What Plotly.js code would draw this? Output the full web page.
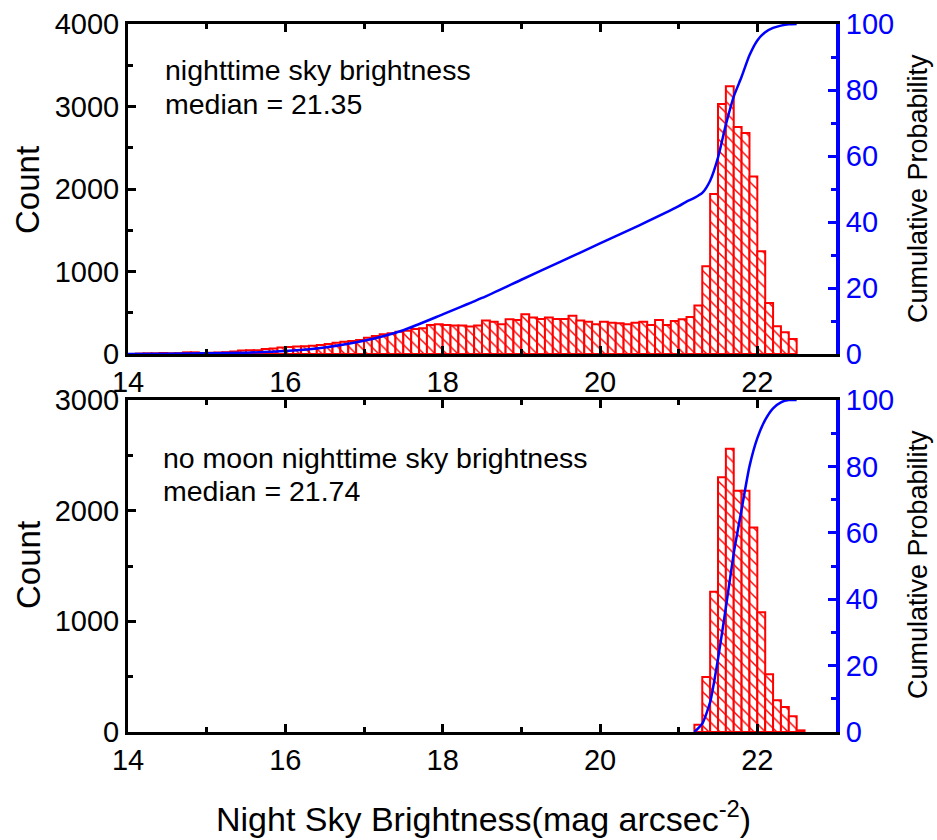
<!DOCTYPE html>
<html>
<head>
<meta charset="utf-8">
<script src="https://cdn.plot.ly/plotly-3.0.1.min.js"></script>
<style>html,body{margin:0;padding:0;background:#fff;}#chart{width:937px;height:840px;}</style>
</head>
<body>
<div id="chart"></div>
<script>
// ---- data ----
const topBinStart = [14.0,14.1,14.2,14.3,14.4,14.5,14.6,14.7,14.8,14.9,
  15.0,15.1,15.2,15.3,15.4,15.5,15.6,15.7,15.8,15.9,
  16.0,16.1,16.2,16.3,16.4,16.5,16.6,16.7,16.8,16.9,
  17.0,17.1,17.2,17.3,17.4,17.5,17.6,17.7,17.8,17.9,
  18.0,18.1,18.2,18.3,18.4,18.5,18.6,18.7,18.8,18.9,
  19.0,19.1,19.2,19.3,19.4,19.5,19.6,19.7,19.8,19.9,
  20.0,20.1,20.2,20.3,20.4,20.5,20.6,20.7,20.8,20.9,
  21.0,21.1,21.2,21.3,21.4,21.5,21.6,21.7,21.8,21.9,
  22.0,22.1,22.2,22.3,22.4];
const topCounts = [0,5,8,8,12,8,10,20,20,12,
  15,18,22,30,42,45,45,62,68,80,
  85,92,95,100,110,121,135,150,158,170,
  198,218,239,251,271,283,303,311,352,360,
  352,344,344,332,344,405,392,360,421,413,
  482,441,425,441,425,425,465,405,392,360,
  392,380,372,360,380,392,352,413,352,401,
  421,450,587,1064,1938,3031,3245,2752,2679,2153,
  1246,619,336,263,182];

const topCumX = [14.0,14.5,15.0,15.5,16.0,16.5,17.0,17.5,18.0,18.5,19.0,19.5,20.0,20.5,21.0,21.1,21.2,21.3,21.4,21.5,21.6,21.7,21.8,21.9,22.0,22.1,22.2,22.3,22.4,22.5];
const topCumY = [0,0.05,0.2,0.4,0.9,2.0,4.0,7.2,12.0,17.0,22.5,28.0,33.5,39.0,44.8,46.2,47.3,48.8,52.5,59.5,69.5,78.0,84.0,90.5,95.0,97.5,98.8,99.5,99.9,100];

const botBinStart = [21.2,21.3,21.4,21.5,21.6,21.7,21.8,21.9,22.0,22.1,22.2,22.3,22.4,22.5];
const botCounts = [66,497,1268,2301,2560,2181,2181,1849,1081,521,286,226,142,15];

const botCumX = [21.2,21.3,21.4,21.5,21.6,21.7,21.8,21.9,22.0,22.1,22.2,22.3,22.4,22.5];
const botCumY = [0,2.5,9.0,22.0,37.5,53.8,67.0,80.0,88.5,94.0,97.5,99.3,100,100];

const xTickVals = [14,16,18,20,22];
const topLabel1 = 'nighttime sky brightness';
const topLabel2 = 'median = 21.35';
const botLabel1 = 'no moon nighttime sky brightness';
const botLabel2 = 'median = 21.74';

// ---- styling ----
const FONT = 'Liberation Sans, Arial, sans-serif';
const RED = '#ff0000';
const BLUE = '#0000ff';
const TICKSIZE = 29;
const TEXTSIZE = 28.5;

function barTrace(x, y, xa, ya) {
  return {
    type: 'bar', x: x, y: y, xaxis: xa, yaxis: ya,
    width: 0.1, offset: 0,
    marker: {
      color: 'white',
      line: {color: RED, width: 2},
      pattern: {shape: '\\', fgcolor: RED, bgcolor: 'white', size: 8, solidity: 0.18, fillmode: 'replace'}
    },
    hoverinfo: 'skip', showlegend: false
  };
}
function lineTrace(x, y, xa, ya) {
  return {
    type: 'scatter', mode: 'lines', x: x, y: y, xaxis: xa, yaxis: ya,
    line: {color: BLUE, width: 2.5, shape: 'spline', smoothing: 0.6},
    hoverinfo: 'skip', showlegend: false
  };
}

const data = [
  barTrace(topBinStart, topCounts, 'x', 'y'),
  lineTrace(topCumX, topCumY, 'x', 'y2'),
  barTrace(botBinStart, botCounts, 'x2', 'y3'),
  lineTrace(botCumX, botCumY, 'x2', 'y4')
];

const xDom = [128/937, 836/937];
const topDom = [1-354/840, 1-24/840];
const botDom = [1-732/840, 1-400/840];

function xAxis(anchor) {
  return {
    domain: xDom, anchor: anchor, range: [14, 23],
    tickvals: xTickVals, ticks: 'inside', ticklen: 8, tickwidth: 3, tickcolor: 'black',
    minor: {dtick: 1, tick0: 14, ticks: 'inside', ticklen: 5, tickwidth: 3, tickcolor: 'black'},
    showline: true, linecolor: 'black', linewidth: 3, mirror: 'ticks',
    showgrid: false, zeroline: false,
    tickfont: {family: FONT, size: TICKSIZE, color: 'black'}
  };
}
function yLeft(domain, anchor, max) {
  return {
    domain: domain, anchor: anchor, range: [0, max], dtick: 1000,
    ticks: 'inside', ticklen: 8, tickwidth: 3, tickcolor: 'black',
    minor: {dtick: 500, ticks: 'inside', ticklen: 5, tickwidth: 3, tickcolor: 'black'},
    showline: true, linecolor: 'black', linewidth: 3, mirror: false,
    showgrid: false, zeroline: false,
    tickfont: {family: FONT, size: TICKSIZE, color: 'black'}
  };
}
function yRight(over, anchor) {
  return {
    overlaying: over, anchor: anchor, side: 'right', range: [0, 100], dtick: 20,
    ticks: 'inside', ticklen: 8, tickwidth: 3, tickcolor: BLUE,
    minor: {dtick: 10, ticks: 'inside', ticklen: 5, tickwidth: 3, tickcolor: BLUE},
    showline: true, linecolor: BLUE, linewidth: 4,
    showgrid: false, zeroline: false,
    tickfont: {family: FONT, size: TICKSIZE, color: BLUE}
  };
}

function ann(text, x, y, opts) {
  return Object.assign({
    text: text, x: x, y: y, xref: 'paper', yref: 'paper',
    xanchor: 'left', yanchor: 'middle', showarrow: false,
    font: {family: FONT, size: TEXTSIZE, color: 'black'}
  }, opts || {});
}

const layout = {
  width: 937, height: 840,
  margin: {l: 0, r: 0, t: 0, b: 0},
  paper_bgcolor: 'white', plot_bgcolor: 'white',
  showlegend: false,
  barmode: 'overlay',
  xaxis: xAxis('y'),
  yaxis: yLeft(topDom, 'x', 4000),
  yaxis2: yRight('y', 'x'),
  xaxis2: xAxis('y3'),
  yaxis3: yLeft(botDom, 'x2', 3000),
  yaxis4: yRight('y3', 'x2'),
  annotations: [
    ann(topLabel1, 163/937, 1-70/840),
    ann(topLabel2, 163/937, 1-104/840),
    ann(botLabel1, 161/937, 1-458/840),
    ann(botLabel2, 161/937, 1-491/840),
    ann('Count', 28/937, 1-190/840, {xanchor: 'center', textangle: -90, font: {family: FONT, size: 33, color: 'black'}}),
    ann('Count', 28/937, 1-565/840, {xanchor: 'center', textangle: -90, font: {family: FONT, size: 33, color: 'black'}}),
    ann('Cumulative Probability', 918/937, 1-189/840, {xanchor: 'center', textangle: -90, font: {family: FONT, size: 27, color: 'black'}}),
    ann('Cumulative Probability', 918/937, 1-565/840, {xanchor: 'center', textangle: -90, font: {family: FONT, size: 27, color: 'black'}}),
    ann('Night Sky Brightness(mag arcsec<sup>-2</sup>)', 483/937, 1-816/840, {xanchor: 'center', font: {family: FONT, size: 34, color: 'black'}})
  ]
};

Plotly.newPlot('chart', data, layout, {staticPlot: true, displayModeBar: false});
</script>
</body>
</html>
